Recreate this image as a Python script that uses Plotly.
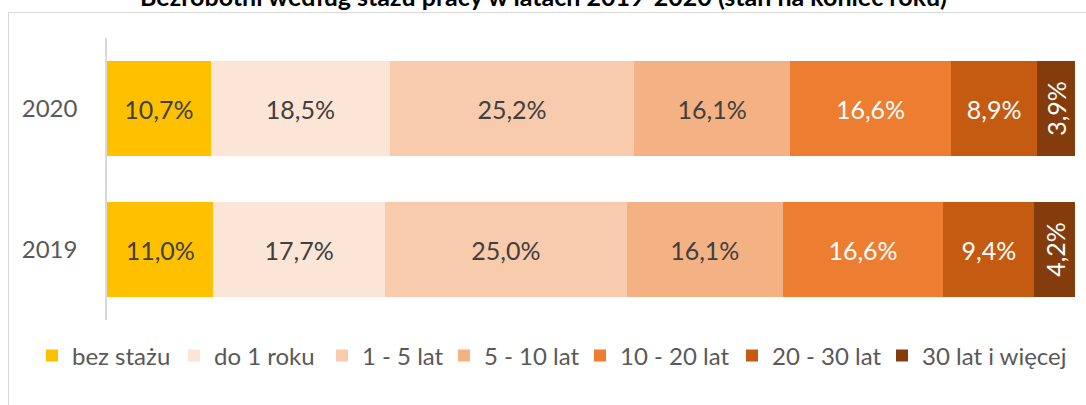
import plotly.graph_objects as go

years = ["2020", "2019"]
series = ["bez stażu", "do 1 roku", "1 - 5 lat", "5 - 10 lat", "10 - 20 lat", "20 - 30 lat", "30 lat i więcej"]
values_2020 = [10.7, 18.5, 25.2, 16.1, 16.6, 8.9, 3.9]
values_2019 = [11.0, 17.7, 25.0, 16.1, 16.6, 9.4, 4.2]
colors = ["#FFC000", "#FBE5D6", "#F8CBAD", "#F4B183", "#ED7D31", "#C55A11", "#843C0C"]
text_colors = ["#404040", "#404040", "#404040", "#404040", "#FFFFFF", "#FFFFFF", "#FFFFFF"]
title = "Bezrobotni według stażu pracy w latach 2019-2020 (stan na koniec roku)"

# legend square left edges (pixels) as in the reference
legend_x_px = [45, 187, 335, 457, 593, 745, 895]

FONT = "Lato, Carlito, sans-serif"

def fmt(v):
    return f"{v:.1f}%".replace(".", ",")

W, H = 1086, 405
L, R, T, B = 107, 11, 38, 85
pw, ph = W - L - R, H - T - B

def px_x(p):
    return (p - L) / pw

def px_y(p):
    return (H - B - p) / ph

fig = go.Figure()
legends = {}
for i, name in enumerate(series):
    vals = [values_2020[i], values_2019[i]]
    lg = "legend" if i == 0 else f"legend{i + 1}"
    fig.add_trace(go.Bar(
        y=years, x=vals, name=name, orientation="h", legend=lg,
        marker=dict(color=colors[i], line=dict(width=0)),
        text=[fmt(v) for v in vals], textposition="inside",
        insidetextanchor="middle", constraintext="none",
        textangle=-90 if i == len(series) - 1 else 0,
        textfont=dict(color=text_colors[i], size=25, family=FONT),
        width=0.67, hoverinfo="skip",
    ))
    legends[lg] = dict(orientation="h", x=px_x(legend_x_px[i] - 13), xanchor="left",
                       y=px_y(356), yanchor="middle",
                       font=dict(size=24, color="#595959", family=FONT),
                       bgcolor="rgba(0,0,0,0)", borderwidth=0)

fig.update_layout(
    barmode="stack", barnorm="percent", bargap=0.33,
    width=W, height=H,
    margin=dict(l=L, r=R, t=T, b=B, autoexpand=False),
    paper_bgcolor="white", plot_bgcolor="white",
    font=dict(family=FONT, color="#595959"),
    xaxis=dict(range=[0, 100], visible=False, fixedrange=True, automargin=False),
    yaxis=dict(categoryorder="array", categoryarray=years, autorange="reversed",
               showline=True, linecolor="#D9D9D9", linewidth=1.5, automargin=False,
               showgrid=False, zeroline=False, ticks="", ticklabelstandoff=23,
               tickfont=dict(size=24, color="#595959", family=FONT)),
    showlegend=True,
    shapes=[dict(type="rect", xref="paper", yref="paper",
                 x0=px_x(8.5), x1=px_x(1095), y0=px_y(420), y1=px_y(12.5),
                 line=dict(color="#D9D9D9", width=1), fillcolor="rgba(0,0,0,0)", layer="below")],
    annotations=[dict(text=f"<b>{title}</b>", xref="paper", yref="paper",
                      x=px_x(543), y=px_y(-4), xanchor="center", yanchor="middle",
                      showarrow=False, font=dict(size=25, color="#000000", family=FONT))],
    **legends,
)

fig.write_html("out.html", config={"displayModeBar": False},
               post_script="document.body.style.margin='0px';")
